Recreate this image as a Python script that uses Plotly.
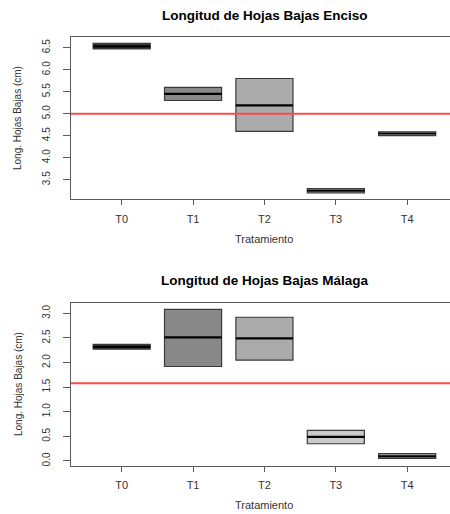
import plotly.graph_objects as go

categories = ["T0", "T1", "T2", "T3", "T4"]
positions = [1, 2, 3, 4, 5]
fills = ["#3c3c3c", "#888888", "#ababab", "#c9c9c9", "#b3b3b3"]

# Enciso
enc_q1 = [6.47, 5.30, 4.60, 3.20, 4.50]
enc_med = [6.53, 5.45, 5.19, 3.25, 4.55]
enc_q3 = [6.60, 5.60, 5.80, 3.30, 4.59]
enc_ref = 5.0
enc_ticks = [3.5, 4.0, 4.5, 5.0, 5.5, 6.0, 6.5]

# Malaga
mal_q1 = [2.27, 1.92, 2.05, 0.35, 0.05]
mal_med = [2.32, 2.51, 2.49, 0.49, 0.095]
mal_q3 = [2.37, 3.08, 2.92, 0.62, 0.15]
mal_ref = 1.58
mal_ticks = [0.0, 0.5, 1.0, 1.5, 2.0, 2.5, 3.0]

W, H = 450, 514
FONT = "Liberation Sans, Arial, sans-serif"
AX = "#5a5a5a"
TXT = "#333333"
HALF = 0.4

fig = go.Figure()

def add_panel(q1, med, q3, xa, ya):
    fig.add_trace(go.Bar(
        x=positions, base=q1, y=[b - a for a, b in zip(q1, q3)],
        width=0.8, marker=dict(color=fills, line=dict(color="#3a3a3a", width=1.2)),
        xaxis=xa, yaxis=ya, showlegend=False, hoverinfo="skip"))
    mx, my = [], []
    for p, m in zip(positions, med):
        mx += [p - HALF, p + HALF, None]
        my += [m, m, None]
    fig.add_trace(go.Scatter(x=mx, y=my, mode="lines",
                             line=dict(color="black", width=2.2),
                             xaxis=xa, yaxis=ya, showlegend=False, hoverinfo="skip"))

add_panel(enc_q1, enc_med, enc_q3, "x", "y")
add_panel(mal_q1, mal_med, mal_q3, "x2", "y2")

x0 = 71 / W
top_dom = [1 - 199.3 / H, 1 - 37.3 / H]
bot_dom = [1 - 465.7 / H, 1 - 302.7 / H]

xcommon = dict(range=[0.29, 5.6], tickvals=positions, ticktext=categories,
               showgrid=False, zeroline=False, showline=True, mirror=True,
               linecolor=AX, linewidth=1, ticks="outside", ticklen=5,
               tickcolor=AX, tickfont=dict(size=11, color=TXT, family=FONT),
               domain=[x0, 1.0], ticklabelstandoff=4)
ycommon = dict(showgrid=False, zeroline=False, showline=True, linecolor=AX,
               linewidth=1, ticks="outside", ticklen=7, tickcolor=AX,
               tickangle=-90, tickfont=dict(size=10, color=TXT, family=FONT),
               ticklabelstandoff=9)

fig.update_layout(
    width=W, height=H, margin=dict(l=0, r=0, t=0, b=0),
    paper_bgcolor="white", plot_bgcolor="white", barmode="overlay",
    font=dict(family=FONT, color=TXT),
    xaxis=dict(xcommon, anchor="y"),
    yaxis=dict(ycommon, range=[3.055, 6.736], tickvals=enc_ticks,
               ticktext=[f"{v:.1f}" for v in enc_ticks], domain=top_dom, anchor="x"),
    xaxis2=dict(xcommon, anchor="y2"),
    yaxis2=dict(ycommon, range=[-0.096, 3.216], tickvals=mal_ticks,
                ticktext=[f"{v:.1f}" for v in mal_ticks], domain=bot_dom, anchor="x2"),
)

# reference lines
fig.add_shape(type="line", xref="x domain", yref="y", x0=0, x1=1, y0=enc_ref, y1=enc_ref,
              line=dict(color="#ff4a4a", width=2))
fig.add_shape(type="line", xref="x2 domain", yref="y2", x0=0, x1=1, y0=mal_ref, y1=mal_ref,
              line=dict(color="#ff4a4a", width=2))

def ann(text, x, y, size, bold=False, angle=0, color=TXT):
    fig.add_annotation(text=f"<b>{text}</b>" if bold else text, x=x / W, y=1 - y / H,
                       xref="paper", yref="paper", showarrow=False, textangle=angle,
                       font=dict(size=size, color=color, family=FONT),
                       xanchor="center", yanchor="middle")

ann("Longitud de Hojas Bajas Enciso", 265, 15, 13.5, bold=True, color="black")
ann("Tratamiento", 264, 239, 11)
ann("Long. Hojas Bajas (cm)", 18, 118, 10, angle=-90)
ann("Longitud de Hojas Bajas Málaga", 265, 280, 13.5, bold=True, color="black")
ann("Tratamiento", 264, 505, 11)
ann("Long. Hojas Bajas (cm)", 18, 384, 10, angle=-90)

fig.write_html("out.html")
